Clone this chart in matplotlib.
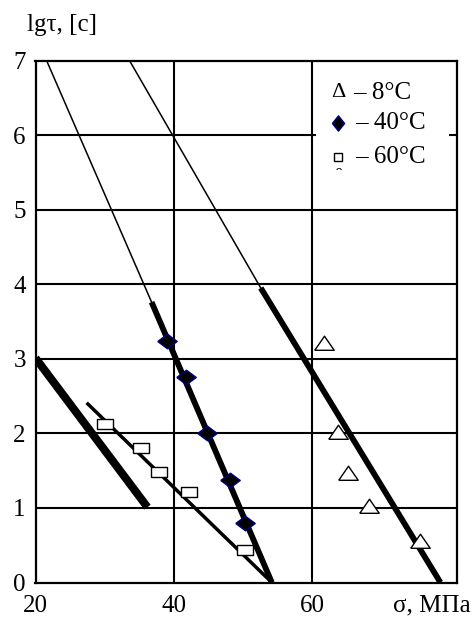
import numpy as np
import matplotlib
matplotlib.use("Agg")
import matplotlib.pyplot as plt

plt.rcParams["font.family"] = ["Liberation Serif", "DejaVu Serif"]

# measured points, sigma [MPa] vs lg(tau)
sigma_8 = [61.7, 63.8, 65.2, 68.2, 75.7]
lg_8 = [3.21, 2.02, 1.47, 1.02, 0.55]

sigma_40 = [39.1, 41.8, 44.8, 48.2, 50.3]
lg_40 = [3.24, 2.75, 2.00, 1.38, 0.80]

sigma_60 = [30.1, 35.2, 37.9, 42.2, 50.3]
lg_60 = [2.13, 1.80, 1.48, 1.21, 0.44]

# fitted lines (thin extrapolation + thick part)
fit40_sigma = [21.6, 36.8, 54.2]
fit40_lg = [7.0, 3.76, 0.0]
fit8_sigma = [33.6, 52.6, 78.6]
fit8_lg = [7.0, 3.95, 0.0]
fit60a_sigma = [20.0, 36.2]
fit60a_lg = [3.01, 1.01]
fit60b_sigma = [27.4, 54.2]
fit60b_lg = [2.41, 0.0]

x_ticks = [20, 40, 60]
y_ticks = [0, 1, 2, 3, 4, 5, 6, 7]
legend_labels = ["\u2013 8\u00b0C", "\u2013 40\u00b0C", "\u2013 60\u00b0C"]

diamond = [(-1, 0), (0, 0.75), (1, 0), (0, -0.75), (-1, 0)]
diamond_tall = [(-0.8, 0), (0, 1), (0.8, 0), (0, -1), (-0.8, 0)]
tri = [(-1, -0.7), (1, -0.7), (0, 0.75), (-1, -0.7)]
rect = [(-1, -0.7), (1, -0.7), (1, 0.7), (-1, 0.7), (-1, -0.7)]

fig = plt.figure(figsize=(4.77, 6.21), dpi=100)
ax = fig.add_axes([35.5 / 477, 38.5 / 621, 421.5 / 477, 522 / 621])
ax.set_xlim(20, 81)
ax.set_ylim(0, 7)

for x in [40, 60]:
    ax.axvline(x, color="black", lw=1.5, zorder=1)
for y in range(1, 7):
    ax.axhline(y, color="black", lw=1.5, zorder=1)
for s in ax.spines.values():
    s.set_linewidth(1.6)

# lines
ax.plot(fit40_sigma[:2], fit40_lg[:2], color="black", lw=1.1, zorder=3)
ax.plot(fit40_sigma[1:], fit40_lg[1:], color="black", lw=4.2, zorder=3,
        solid_capstyle="butt")
ax.plot(fit8_sigma[:2], fit8_lg[:2], color="black", lw=1.1, zorder=3)
ax.plot(fit8_sigma[1:], fit8_lg[1:], color="black", lw=4.2, zorder=3,
        solid_capstyle="butt")
ax.plot(fit60a_sigma, fit60a_lg, color="black", lw=5.8, zorder=3,
        solid_capstyle="butt")
ax.plot(fit60b_sigma, fit60b_lg, color="black", lw=2.5, zorder=3,
        solid_capstyle="butt")

# markers
ax.plot(sigma_8, lg_8, ls="none", marker=tri, ms=14, mfc="white",
        mec="black", mew=1.0, zorder=4)
ax.plot(sigma_40, lg_40, ls="none", marker=diamond, ms=14, mfc="black",
        mec="#000080", mew=1.0, zorder=4)
ax.plot(sigma_60, lg_60, ls="none", marker=rect, ms=11, mfc="white",
        mec="black", mew=1.0, zorder=4)

# legend box
box = plt.Rectangle((0.665, 0.79), 0.315, 0.19, transform=ax.transAxes,
                    facecolor="white", edgecolor="none", zorder=5)
ax.add_patch(box)
rows = [0.938, 0.880, 0.815]
ax.text(0.718, rows[0], "\u0394", transform=ax.transAxes, fontsize=16,
        va="center", ha="center", zorder=6)
ax.plot([0.718], [rows[1]], transform=ax.transAxes, marker=diamond_tall,
        ms=11, mfc="black", mec="#000080", mew=1.0, zorder=6, clip_on=False)
ax.plot([0.718], [rows[2]], transform=ax.transAxes, marker="s", ms=6,
        mfc="white", mec="black", mew=1.0, zorder=6, clip_on=False)
for yy, lab, x0 in zip(rows, legend_labels, [0.753, 0.758, 0.758]):
    ax.text(x0, yy, lab, transform=ax.transAxes, fontsize=18,
            va="center", ha="left", zorder=6)
# fourth entry cut off by the box edge
t = ax.text(0.710, 0.781, "0  ~", transform=ax.transAxes, fontsize=12,
            va="center", ha="left", zorder=6, clip_on=True)
t.set_clip_path(box)

ax.set_xticks(x_ticks)
ax.set_xticklabels([str(v) for v in x_ticks], fontsize=18)
ax.set_yticks(y_ticks)
ax.set_yticklabels([str(v) for v in y_ticks], fontsize=18)
ax.tick_params(length=0)
ax.tick_params(axis="x", pad=9)
ax.tick_params(axis="y", pad=7)

fig.text(27 / 477, 1 - 25 / 621, "lg\u03c4, [c]", fontsize=18,
         ha="left", va="center")
fig.text(471 / 477, 1 - 605 / 621, "\u03c3, \u041c\u041f\u0430", fontsize=18,
         ha="right", va="center")

fig.savefig("out.png", dpi=100)
